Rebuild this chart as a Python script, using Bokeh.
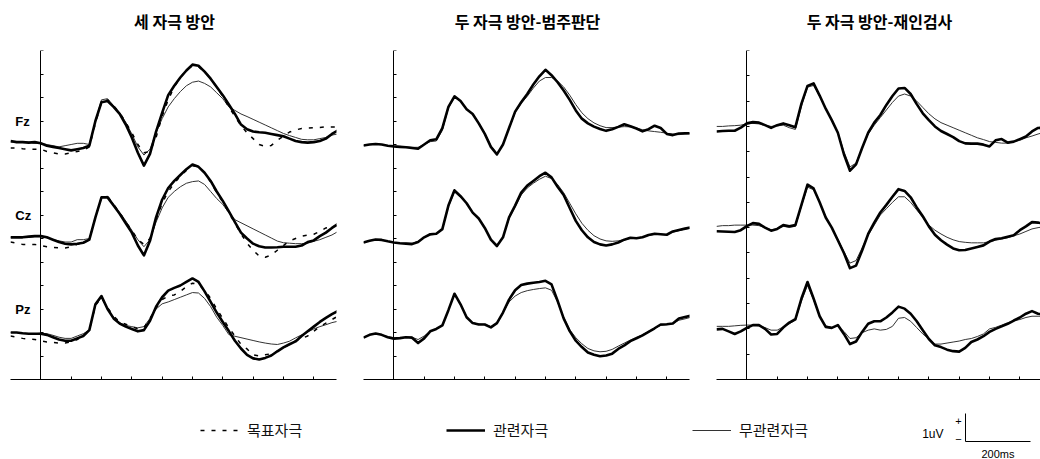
from bokeh.plotting import figure
from bokeh.layouts import column, row
from bokeh.models import Range1d, FixedTicker, Label, Legend, LegendItem, CustomJSTickFormatter
from bokeh.embed import file_html
from bokeh.resources import INLINE

# ---------------- data ----------------
TIME_MS = list(range(-100, 981, 20))          # sampling grid, 55 points
TICK_MS = [0, 100, 200, 300, 400, 500, 600, 700, 800, 900]

PANEL_TITLES = ["세 자극 방안", "두 자극 방안-범주판단", "두 자극 방안-재인검사"]
CHANNELS = ["Fz", "Cz", "Pz"]
CONDITIONS = ["목표자극", "관련자극", "무관련자극"]

# Panel 1 : 세 자극 방안 (µV)
p1_fz_target = [-0.15, -0.15, -0.18, -0.2, -0.2, -0.2, -0.3, -0.35, -0.4, -0.4,
                -0.35, -0.3, -0.25, -0.1, 0.9, 1.8, 1.9, 1.65, 1.35, 0.95,
                0.5, 0.0, -0.35, -0.3, 0.3, 1.2, 1.9, 2.45, 2.85, 3.15,
                3.35, 3.3, 3.1, 2.8, 2.45, 2.05, 1.6, 1.2, 0.8, 0.5,
                0.25, 0.0, -0.08, -0.04, 0.18, 0.35, 0.53, 0.62, 0.68, 0.7,
                0.72, 0.72, 0.75, 0.75, 0.75]
p1_fz_related = [0.15, 0.1, 0.1, 0.08, 0.1, 0.05, -0.05, -0.1, -0.15, -0.2,
                 -0.25, -0.2, -0.15, -0.05, 1.0, 1.8, 1.85, 1.6, 1.3, 0.85,
                 0.3, -0.35, -0.9, -0.4, 0.55, 1.35, 2.1, 2.5, 2.85, 3.15,
                 3.4, 3.35, 3.1, 2.8, 2.45, 2.1, 1.7, 1.3, 0.85, 0.65,
                 0.55, 0.52, 0.5, 0.45, 0.4, 0.35, 0.25, 0.15, 0.1, 0.08,
                 0.1, 0.15, 0.25, 0.45, 0.6]
p1_fz_unrelated = [0.1, 0.1, 0.1, 0.1, 0.05, 0.05, 0.0, -0.05, -0.1, -0.05,
                   0.0, 0.05, 0.05, 0.0, 1.0, 1.9, 1.95, 1.65, 1.35, 0.95,
                   0.45, -0.1, -0.45, -0.2, 0.5, 1.1, 1.6, 1.95, 2.25, 2.5,
                   2.65, 2.7, 2.6, 2.45, 2.2, 1.95, 1.6, 1.45, 1.3, 1.19,
                   1.07, 0.95, 0.83, 0.71, 0.59, 0.47, 0.38, 0.3, 0.22, 0.2,
                   0.2, 0.25, 0.3, 0.4, 0.45]
p1_cz_target = [-0.15, -0.2, -0.25, -0.25, -0.25, -0.3, -0.35, -0.38, -0.4, -0.4,
                -0.35, -0.25, -0.2, -0.05, 0.9, 1.75, 1.8, 1.45, 1.1, 0.7,
                0.35, -0.05, -0.25, 0.0, 0.8, 1.5, 2.0, 2.35, 2.65, 2.9,
                3.1, 3.05, 2.8, 2.4, 1.95, 1.55, 1.1, 0.65, 0.2, -0.2,
                -0.5, -0.75, -0.8, -0.7, -0.5, -0.3, -0.1, 0.0, 0.1, 0.15,
                0.18, 0.3, 0.45, 0.5, 0.55]
p1_cz_related = [0.05, 0.05, 0.05, 0.08, 0.1, 0.1, 0.05, -0.05, -0.15, -0.22,
                 -0.25, -0.22, -0.18, -0.05, 0.9, 1.75, 1.75, 1.4, 1.05, 0.65,
                 0.25, -0.3, -0.72, -0.1, 0.9, 1.65, 2.15, 2.45, 2.7, 2.95,
                 3.15, 3.05, 2.8, 2.45, 2.0, 1.6, 1.15, 0.7, 0.25, 0.0,
                 -0.22, -0.33, -0.38, -0.38, -0.37, -0.35, -0.35, -0.35, -0.3, -0.15,
                 -0.08, 0.1, 0.25, 0.45, 0.62]
p1_cz_unrelated = [0.05, 0.05, 0.05, 0.05, 0.08, 0.08, 0.03, -0.05, -0.1, -0.15,
                   -0.15, -0.05, -0.05, 0.0, 0.9, 1.75, 1.8, 1.45, 1.1, 0.75,
                   0.35, -0.05, -0.35, -0.05, 0.7, 1.3, 1.75, 2.0, 2.2, 2.35,
                   2.42, 2.45, 2.3, 2.0, 1.7, 1.45, 1.1, 0.8, 0.67, 0.54,
                   0.41, 0.28, 0.15, 0.02, -0.11, -0.18, -0.2, -0.22, -0.22, -0.2,
                   -0.12, -0.05, 0.05, 0.15, 0.3]
p1_pz_target = [-0.15, -0.2, -0.25, -0.28, -0.3, -0.35, -0.4, -0.42, -0.45, -0.45,
                -0.4, -0.3, -0.15, 0.1, 1.15, 1.5, 1.05, 0.7, 0.45, 0.35,
                0.25, 0.15, 0.2, 0.6, 1.05, 1.4, 1.55, 1.6, 1.75, 1.95,
                2.1, 2.05, 1.8, 1.45, 1.0, 0.6, 0.2, -0.15, -0.5, -0.7,
                -0.95, -1.0, -0.95, -0.9, -0.8, -0.65, -0.5, -0.35, -0.25, -0.15,
                0.05, 0.25, 0.4, 0.55, 0.7]
p1_pz_related = [0.0, 0.0, -0.03, -0.05, -0.05, -0.05, -0.1, -0.2, -0.3, -0.35,
                 -0.35, -0.25, -0.15, 0.1, 1.2, 1.55, 1.0, 0.6, 0.38, 0.25,
                 0.15, 0.05, 0.1, 0.5, 1.1, 1.5, 1.78, 1.9, 2.0, 2.15,
                 2.3, 2.15, 1.75, 1.3, 0.85, 0.45, 0.06, -0.35, -0.68, -0.95,
                 -1.1, -1.15, -1.08, -0.98, -0.8, -0.63, -0.5, -0.38, -0.15, 0.05,
                 0.25, 0.45, 0.62, 0.78, 0.92]
p1_pz_unrelated = [0.0, 0.0, -0.03, -0.05, -0.05, -0.03, -0.05, -0.12, -0.2, -0.25,
                   -0.25, -0.15, -0.05, 0.1, 1.15, 1.5, 1.0, 0.65, 0.42, 0.3,
                   0.25, 0.2, 0.25, 0.6, 1.0, 1.22, 1.3, 1.4, 1.5, 1.6,
                   1.7, 1.68, 1.45, 1.1, 0.65, 0.3, -0.09, -0.16, -0.22, -0.28,
                   -0.34, -0.4, -0.45, -0.49, -0.51, -0.45, -0.37, -0.23, -0.1, 0.02,
                   0.15, 0.25, 0.33, 0.42, 0.48]

# Panel 2 : 두 자극 방안-범주판단 (µV)
p2_fz_related = [-0.04, 0.0, 0.02, 0.0, -0.05, -0.08, -0.1, -0.12, -0.15, -0.18,
                 0.0, 0.18, 0.22, 0.7, 1.6, 2.05, 1.85, 1.5, 1.3, 0.9,
                 0.45, -0.1, -0.42, 0.0, 0.7, 1.4, 1.8, 2.15, 2.55, 2.9,
                 3.18, 2.95, 2.65, 2.3, 1.9, 1.45, 1.1, 0.9, 0.76, 0.66,
                 0.58, 0.65, 0.75, 0.86, 0.78, 0.68, 0.56, 0.65, 0.8, 0.7,
                 0.45, 0.4, 0.47, 0.48, 0.48]
p2_fz_unrelated = [-0.04, 0.0, 0.02, 0.0, -0.05, -0.08, -0.08, -0.1, -0.12, -0.12,
                   0.0, 0.12, 0.15, 0.6, 1.55, 2.0, 1.85, 1.5, 1.3, 0.92,
                   0.48, -0.05, -0.38, 0.0, 0.68, 1.35, 1.75, 2.05, 2.4, 2.7,
                   2.85, 2.85, 2.7, 2.45, 2.1, 1.7, 1.35, 1.1, 0.92, 0.8,
                   0.72, 0.72, 0.74, 0.76, 0.75, 0.7, 0.63, 0.58, 0.55, 0.52,
                   0.48, 0.44, 0.42, 0.44, 0.46]
p2_cz_related = [-0.17, -0.1, -0.04, -0.06, -0.12, -0.17, -0.2, -0.22, -0.24, -0.15,
                 0.05, 0.18, 0.2, 0.4, 1.4, 2.05, 1.8, 1.5, 1.1, 0.85,
                 0.45, -0.05, -0.32, 0.05, 0.9, 1.4, 1.95, 2.25, 2.45, 2.65,
                 2.8, 2.6, 2.2, 1.85, 1.3, 0.75, 0.35, 0.05, -0.15, -0.25,
                 -0.3, -0.25, -0.17, -0.05, 0.03, 0.01, 0.05, 0.15, 0.2, 0.18,
                 0.16, 0.3, 0.36, 0.42, 0.47]
p2_cz_unrelated = [-0.17, -0.1, -0.04, -0.06, -0.12, -0.17, -0.2, -0.2, -0.2, -0.12,
                   0.05, 0.15, 0.18, 0.38, 1.35, 1.98, 1.75, 1.5, 1.1, 0.85,
                   0.45, -0.02, -0.28, 0.05, 0.85, 1.35, 1.85, 2.15, 2.35, 2.52,
                   2.65, 2.55, 2.3, 1.95, 1.5, 1.05, 0.65, 0.35, 0.12, -0.02,
                   -0.1, -0.12, -0.1, -0.05, 0.0, 0.03, 0.06, 0.13, 0.17, 0.17,
                   0.16, 0.27, 0.33, 0.4, 0.45]
p2_pz_related = [-0.22, -0.1, -0.04, -0.1, -0.2, -0.26, -0.24, -0.2, -0.22, -0.45,
                 -0.25, 0.05, 0.15, 0.3, 0.95, 1.65, 1.2, 0.65, 0.4, 0.34,
                 0.34, 0.22, 0.4, 0.85, 1.4, 1.8, 2.02, 2.08, 2.12, 2.15,
                 2.2, 2.05, 1.35, 0.6, 0.06, -0.35, -0.62, -0.85, -0.95, -1.01,
                 -0.98, -0.9, -0.7, -0.55, -0.37, -0.25, -0.12, 0.03, 0.18, 0.34,
                 0.35, 0.38, 0.6, 0.66, 0.72]
p2_pz_unrelated = [-0.2, -0.1, -0.05, -0.1, -0.18, -0.22, -0.22, -0.2, -0.2, -0.3,
                   -0.15, 0.05, 0.15, 0.3, 0.95, 1.62, 1.2, 0.68, 0.42, 0.36,
                   0.35, 0.25, 0.4, 0.85, 1.3, 1.55, 1.7, 1.78, 1.83, 1.87,
                   1.9, 1.8, 1.3, 0.65, 0.12, -0.22, -0.48, -0.68, -0.78, -0.82,
                   -0.8, -0.72, -0.58, -0.45, -0.32, -0.2, -0.1, 0.05, 0.18, 0.3,
                   0.33, 0.38, 0.52, 0.58, 0.65]

# Panel 3 : 두 자극 방안-재인검사 (µV)
p3_fz_related = [-0.2, -0.18, -0.17, -0.17, -0.05, 0.12, 0.17, 0.15, 0.05, -0.06,
                 0.05, 0.12, 0.05, -0.03, 0.9, 1.6, 1.7, 1.22, 0.7, 0.25,
                 -0.25, -1.1, -1.75, -1.5, -0.85, -0.25, 0.15, 0.45, 0.85, 1.2,
                 1.5, 1.52, 1.28, 0.88, 0.52, 0.25, 0.0, -0.18, -0.3, -0.42,
                 -0.58, -0.67, -0.68, -0.68, -0.72, -0.79, -0.55, -0.5, -0.64, -0.6,
                 -0.5, -0.4, -0.2, -0.06, -0.05]
p3_fz_unrelated = [0.0, 0.0, 0.02, 0.03, 0.05, 0.1, 0.12, 0.1, 0.05, 0.0,
                   0.02, 0.05, -0.05, -0.12, 0.8, 1.55, 1.62, 1.2, 0.7, 0.25,
                   -0.22, -1.0, -1.6, -1.45, -0.85, -0.3, 0.05, 0.35, 0.65, 0.95,
                   1.2, 1.28, 1.2, 1.0, 0.75, 0.5, 0.3, 0.15, 0.05, -0.05,
                   -0.15, -0.25, -0.35, -0.45, -0.52, -0.6, -0.63, -0.66, -0.66, -0.6,
                   -0.55, -0.45, -0.38, -0.3, -0.23]
p3_cz_related = [-0.14, -0.15, -0.16, -0.17, -0.1, 0.06, 0.18, 0.15, 0.0, -0.12,
                 -0.05, 0.1, 0.05, 0.1, 0.9, 1.7, 1.55, 1.0, 0.4, 0.0,
                 -0.5, -1.0, -1.6, -1.5, -0.9, -0.25, 0.2, 0.6, 0.9, 1.22,
                 1.52, 1.45, 1.2, 0.8, 0.45, 0.05, -0.28, -0.5, -0.67, -0.82,
                 -0.89, -0.88, -0.82, -0.76, -0.7, -0.55, -0.45, -0.42, -0.36, -0.3,
                 -0.1, 0.05, 0.22, 0.2, 0.15]
p3_cz_unrelated = [0.05, 0.08, 0.08, 0.1, 0.1, 0.1, 0.1, 0.08, 0.0, -0.08,
                   -0.05, 0.05, 0.02, 0.05, 0.85, 1.6, 1.5, 1.0, 0.42, 0.0,
                   -0.45, -0.95, -1.4, -1.3, -0.8, -0.3, 0.1, 0.5, 0.75, 1.0,
                   1.22, 1.22, 1.0, 0.7, 0.4, 0.1, -0.1, -0.25, -0.38, -0.48,
                   -0.55, -0.58, -0.6, -0.6, -0.6, -0.55, -0.5, -0.45, -0.4, -0.32,
                   -0.25, -0.15, -0.05, 0.0, 0.04]
p3_pz_related = [-0.02, 0.0, -0.1, -0.2, -0.1, 0.04, 0.15, 0.15, 0.0, -0.22,
                 -0.2, 0.05, 0.25, 0.38, 1.2, 1.85, 1.2, 0.5, 0.08, 0.04,
                 0.15, -0.2, -0.6, -0.5, -0.12, 0.2, 0.3, 0.3, 0.45, 0.65,
                 0.88, 0.8, 0.6, 0.3, -0.05, -0.4, -0.65, -0.72, -0.82, -0.88,
                 -0.9, -0.75, -0.52, -0.42, -0.29, -0.12, 0.0, 0.1, 0.2, 0.33,
                 0.45, 0.6, 0.7, 0.6, 0.57]
p3_pz_unrelated = [0.1, 0.1, 0.1, 0.12, 0.14, 0.15, 0.15, 0.12, 0.05, -0.05,
                   -0.05, 0.08, 0.2, 0.35, 1.1, 1.72, 1.15, 0.5, 0.12, 0.05,
                   0.12, -0.1, -0.38, -0.35, -0.15, -0.05, 0.0, -0.05, -0.02, 0.1,
                   0.42, 0.45, 0.3, 0.05, -0.2, -0.4, -0.6, -0.6, -0.56, -0.52,
                   -0.48, -0.42, -0.38, -0.3, -0.2, 0.0, 0.06, 0.15, 0.24, 0.32,
                   0.37, 0.45, 0.5, 0.5, 0.5]

SCALE_BAR_MS = 200
SCALE_BAR_UV = 1

# ---------------- layout / style ----------------
KR = "Noto Sans CJK KR"
CHANNEL_BASELINE = {"Fz": 10, "Cz": 6, "Pz": 2}   # vertical stacking of channels (tick units)
STYLE = {
    "무관련자극": dict(line_color="#333333", line_width=1.0),
    "목표자극": dict(line_color="black", line_width=1.5, line_dash="4 7"),
    "관련자극": dict(line_color="black", line_width=2.6, line_join="round"),
}
PANEL_DATA = [
    {"Fz": {"목표자극": p1_fz_target, "관련자극": p1_fz_related, "무관련자극": p1_fz_unrelated},
     "Cz": {"목표자극": p1_cz_target, "관련자극": p1_cz_related, "무관련자극": p1_cz_unrelated},
     "Pz": {"목표자극": p1_pz_target, "관련자극": p1_pz_related, "무관련자극": p1_pz_unrelated}},
    {"Fz": {"관련자극": p2_fz_related, "무관련자극": p2_fz_unrelated},
     "Cz": {"관련자극": p2_cz_related, "무관련자극": p2_cz_unrelated},
     "Pz": {"관련자극": p2_pz_related, "무관련자극": p2_pz_unrelated}},
    {"Fz": {"관련자극": p3_fz_related, "무관련자극": p3_fz_unrelated},
     "Cz": {"관련자극": p3_cz_related, "무관련자극": p3_cz_unrelated},
     "Pz": {"관련자극": p3_pz_related, "무관련자극": p3_pz_unrelated}},
]

TITLE_H = 40
PANEL_H = 343
FRAME_H = 329
TOP = 10
LEFT = 10
FRAME_W = [326, 326, 324]
RIGHT = [17, 17, 0]
X_END = [975, 975, 968]
Y_MAX = [14, 14, 13]


def make_panel(idx, show_channels):
    ymax = Y_MAX[idx]
    p = figure(width=LEFT + FRAME_W[idx] + RIGHT[idx], height=PANEL_H,
               x_range=Range1d(-100, X_END[idx]), y_range=Range1d(0, ymax),
               output_backend="svg", toolbar_location=None,
               min_border_left=LEFT, min_border_right=RIGHT[idx],
               min_border_top=TOP, min_border_bottom=PANEL_H - TOP - FRAME_H)
    p.grid.visible = False
    p.outline_line_color = None
    p.yaxis.fixed_location = 0
    p.yaxis.ticker = FixedTicker(ticks=list(range(0, ymax + 1)))
    p.xaxis.ticker = FixedTicker(ticks=TICK_MS)
    for ax in (p.xaxis, p.yaxis):
        ax.major_tick_in = 3
        ax.major_tick_out = 0
        ax.minor_tick_in = 0
        ax.minor_tick_out = 0
        ax.major_label_standoff = 0
        ax.formatter = CustomJSTickFormatter(code="return ''")
        ax.axis_line_color = "black"
        ax.major_tick_line_color = "black"
        ax.axis_line_width = 1
    for ch in CHANNELS:
        base = CHANNEL_BASELINE[ch]
        series = PANEL_DATA[idx][ch]
        for cond in ["무관련자극", "목표자극", "관련자극"]:
            if cond in series:
                p.line(TIME_MS, [v + base for v in series[cond]], **STYLE[cond])
        if show_channels:
            p.add_layout(Label(x=-84, y=base + 1, text=ch, text_font="Liberation Sans",
                               text_font_size="13px", text_font_style="bold",
                               text_baseline="middle", text_align="left", text_color="black"))
    return p


panels = [make_panel(0, True), make_panel(1, False), make_panel(2, False)]
TOTAL_W = sum(LEFT + FRAME_W[i] + RIGHT[i] for i in range(3))

# ---------------- title strip (pixel coordinates) ----------------
tstrip = figure(width=TOTAL_W, height=TITLE_H, x_range=Range1d(0, TOTAL_W), y_range=Range1d(0, TITLE_H),
                output_backend="svg", toolbar_location=None, min_border=0,
                x_axis_location=None, y_axis_location=None)
tstrip.grid.visible = False
tstrip.outline_line_color = None
x_left = 0
for i in range(3):
    cx = x_left + LEFT + FRAME_W[i] / 2 + 1
    tstrip.add_layout(Label(x=cx, y=TITLE_H - 20, text=PANEL_TITLES[i], text_font=KR,
                            text_font_size="16px", text_font_style="bold", text_align="center",
                            text_baseline="middle", text_color="black"))
    x_left += LEFT + FRAME_W[i] + RIGHT[i]

# ---------------- legend + scale bar ----------------
LEG_W, LEG_H = TOTAL_W, 76
PX_PER_MS_BAR = 0.325
PX_PER_UV_BAR = 28.0
leg = figure(width=LEG_W, height=LEG_H,
             x_range=Range1d(0, LEG_W / PX_PER_MS_BAR), y_range=Range1d(0, LEG_H / PX_PER_UV_BAR),
             output_backend="svg", toolbar_location=None, min_border=0,
             x_axis_location=None, y_axis_location=None)
leg.grid.visible = False
leg.outline_line_color = None

legend_x = {"목표자극": 200, "관련자극": 446, "무관련자극": 692}
for cond in CONDITIONS:
    # legend sample renderer (kept outside the visible range)
    r = leg.line(x=[-60, -30], y=[-1, -1], **STYLE[cond])
    lg = Legend(items=[LegendItem(label=cond, renderers=[r])], location=(legend_x[cond], 19),
                orientation="horizontal", border_line_color=None, background_fill_alpha=0,
                padding=0, margin=0, glyph_width=39, glyph_height=14, label_height=14,
                label_standoff=8, label_text_font=KR, label_text_font_size="15px",
                label_text_color="#111111")
    leg.add_layout(lg)

bx0 = 965 / PX_PER_MS_BAR
by0 = 18 / PX_PER_UV_BAR
leg.line([bx0, bx0, bx0 + SCALE_BAR_MS], [by0 + SCALE_BAR_UV, by0, by0], line_color="black", line_width=1)
txt = dict(text_font="Liberation Sans", text_color="black")
leg.add_layout(Label(x=bx0, y=by0, x_offset=-22, y_offset=8, text="1uV", text_align="right",
                     text_baseline="middle", text_font_size="12px", **txt))
leg.add_layout(Label(x=bx0, y=by0, x_offset=-7, y_offset=21, text="+", text_align="center",
                     text_baseline="middle", text_font_size="11px", **txt))
leg.add_layout(Label(x=bx0, y=by0, x_offset=-7, y_offset=3, text="−", text_align="center",
                     text_baseline="middle", text_font_size="11px", **txt))
leg.add_layout(Label(x=bx0 + SCALE_BAR_MS / 2, y=by0, y_offset=-12, text="200ms", text_align="center",
                     text_baseline="middle", text_font_size="11px", **txt))

layout = column(tstrip, row(*panels), leg)
open("out.html", "w").write(file_html(layout, INLINE))
